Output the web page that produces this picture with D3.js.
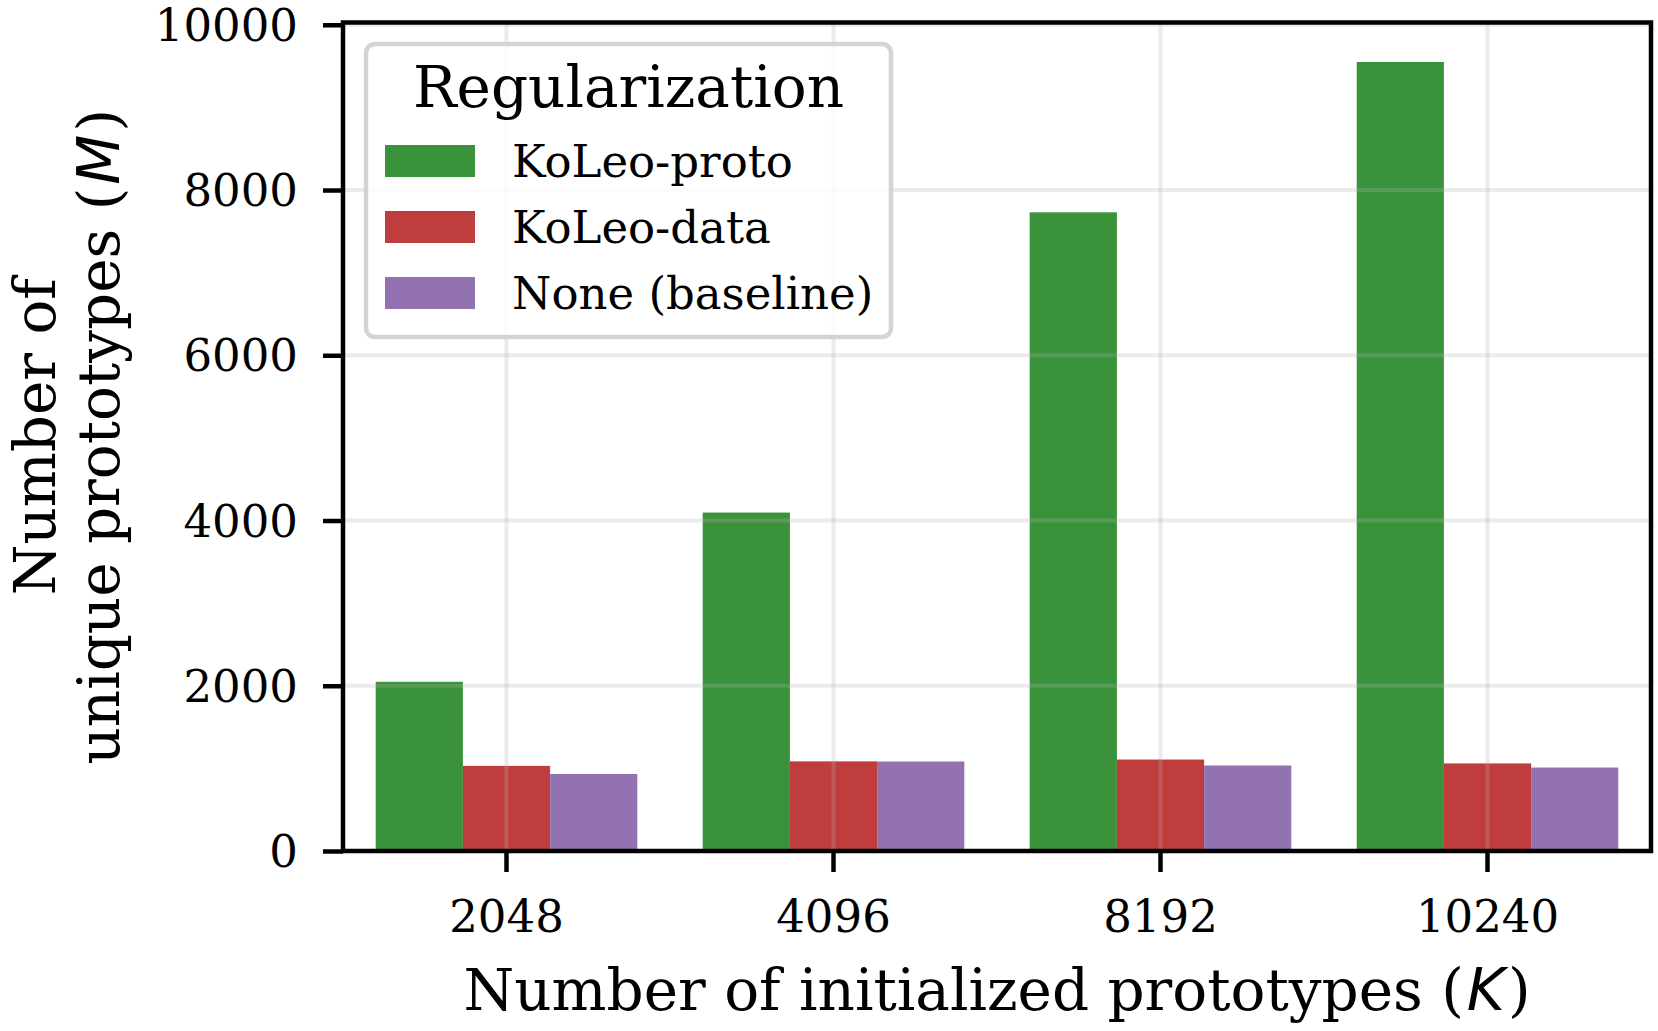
<!DOCTYPE html>
<html>
<head>
<meta charset="utf-8">
<script src="https://cdn.jsdelivr.net/npm/d3@7"></script>
<style>
  html, body { margin: 0; padding: 0; background: #fff; }
  svg { display: block; }
  text { font-family: "DejaVu Serif", serif; fill: #000; }
</style>
</head>
<body>
<svg id="chart" width="1658" height="1031"></svg>
<script>
const categories = ["2048", "4096", "8192", "10240"];
const seriesNames = ["KoLeo-proto", "KoLeo-data", "None (baseline)"];
const koleoProto = [2048, 4096, 7730, 9550];
const koleoData = [1030, 1085, 1107, 1060];
const noneBaseline = [932, 1083, 1035, 1010];
const yTicks = [0, 2000, 4000, 6000, 8000, 10000];
const seriesColors = ["#3a923a", "#c03d3e", "#9372b2"];

(function () {
const seriesValues = [koleoProto, koleoData, noneBaseline];
const rows = categories.map((c, i) => ({
  cat: c,
  vals: seriesNames.map((s, j) => ({ name: s, value: seriesValues[j][i], color: seriesColors[j] }))
}));

const pL = 343, pR = 1651, pT = 22.5, pB = 851;
const svg = d3.select("#chart");

const maxVal = d3.max(seriesValues.flat());
const y = d3.scaleLinear().domain([0, maxVal * 1.05]).range([pB, pT]);
const x = d3.scaleBand().domain(categories).range([pL, pR]).paddingInner(0.2).paddingOuter(0.1);
const xs = d3.scaleBand().domain(seriesNames).range([0, x.bandwidth()]).padding(0);

// bars
const groups = svg.append("g").selectAll("g").data(rows).join("g")
  .attr("transform", d => `translate(${x(d.cat)},0)`);
groups.selectAll("rect").data(d => d.vals).join("rect")
  .attr("x", d => xs(d.name))
  .attr("width", xs.bandwidth())
  .attr("y", d => y(d.value))
  .attr("height", d => y(0) - y(d.value))
  .attr("fill", d => d.color);

// grid (drawn over bars)
const grid = svg.append("g").attr("stroke", "#b0b0b0").attr("stroke-opacity", 0.26).attr("stroke-width", 4);
grid.selectAll("line.h").data(yTicks).join("line").attr("class", "h")
  .attr("x1", pL).attr("x2", pR).attr("y1", d => y(d)).attr("y2", d => y(d));
grid.selectAll("line.v").data(categories).join("line").attr("class", "v")
  .attr("x1", d => x(d) + x.bandwidth() / 2).attr("x2", d => x(d) + x.bandwidth() / 2)
  .attr("y1", pT).attr("y2", pB);

// axes
const yAxis = d3.axisLeft(y).tickValues(yTicks).tickSize(20).tickPadding(25).tickFormat(d3.format("d"));
const gy = svg.append("g").attr("transform", `translate(${pL},0)`).call(yAxis);
gy.select(".domain").remove();
gy.selectAll(".tick line").attr("stroke", "#000").attr("stroke-width", 4.5);
gy.selectAll(".tick text").attr("font-size", 45).attr("font-family", "DejaVu Serif").attr("fill", "#000")
  .attr("dy", null).attr("dominant-baseline", "central");

const xAxis = d3.axisBottom(x).tickSize(21).tickPadding(10);
const gx = svg.append("g").attr("transform", `translate(0,${pB})`).call(xAxis);
gx.select(".domain").remove();
gx.selectAll(".tick line").attr("stroke", "#000").attr("stroke-width", 4.5);
gx.selectAll(".tick text").attr("font-size", 45).attr("font-family", "DejaVu Serif").attr("fill", "#000")
  .attr("dy", null).attr("y", 81);

// spines
svg.append("rect").attr("x", pL).attr("y", pT).attr("width", pR - pL).attr("height", pB - pT)
  .attr("fill", "none").attr("stroke", "#000").attr("stroke-width", 4.5);

// axis labels
const xl = svg.append("text").attr("x", (pL + pR) / 2).attr("y", 1010)
  .attr("text-anchor", "middle").attr("font-size", 58);
xl.append("tspan").text("Number of initialized prototypes (");
xl.append("tspan").attr("font-family", "DejaVu Sans").attr("font-style", "italic").attr("dx", 3).text("K");
xl.append("tspan").attr("dx", 3).text(")");

const yl = svg.append("text").attr("transform", "rotate(-90)").attr("text-anchor", "middle").attr("font-size", 58);
yl.append("tspan").attr("x", -(pT + pB) / 2).attr("y", 55).text("Number of");
yl.append("tspan").attr("x", -(pT + pB) / 2).attr("y", 119).text("unique prototypes (");
yl.append("tspan").attr("font-family", "DejaVu Sans").attr("font-style", "italic").attr("dx", 3).text("M");
yl.append("tspan").attr("dx", 3).text(")");

// legend
const lg = svg.append("g");
lg.append("rect").attr("x", 366).attr("y", 44).attr("width", 525).attr("height", 293)
  .attr("rx", 9).attr("fill", "#fff").attr("fill-opacity", 0.8)
  .attr("stroke", "#d4d4d4").attr("stroke-width", 4.5);
lg.append("text").attr("x", 628.5).attr("y", 106.7).attr("text-anchor", "middle").attr("font-size", 58)
  .text("Regularization");
const items = lg.selectAll("g.item").data(seriesNames).join("g").attr("class", "item")
  .attr("transform", (d, i) => `translate(0,${145 + i * 66})`);
items.append("rect").attr("x", 385).attr("y", 0).attr("width", 90).attr("height", 32)
  .attr("fill", (d, i) => seriesColors[i]);
items.append("text").attr("x", 512).attr("y", 32).attr("font-size", 45).text(d => d);
})();
</script>
</body>
</html>
